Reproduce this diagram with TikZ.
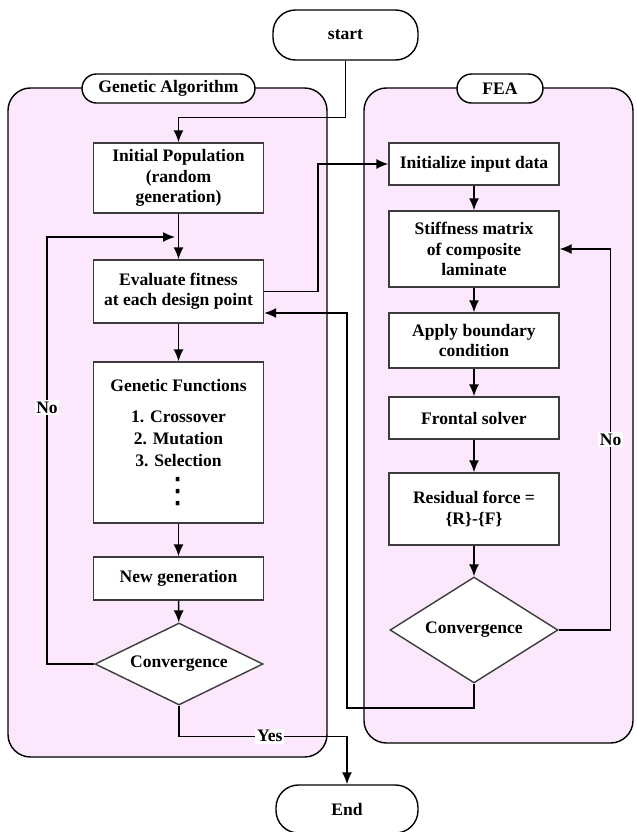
\documentclass[tikz,border=0pt]{standalone}
\usepackage{fontspec}
\setmainfont{Liberation Serif}
\newfontfamily\dotsfont{DejaVu Sans}
\usetikzlibrary{shapes.geometric}
\usetikzlibrary{arrows.meta}
\definecolor{gapink}{RGB}{252,232,252}
\definecolor{boxline}{RGB}{60,60,60}
\newcommand{\gadots}{{\dotsfont\mdseries\fontsize{20}{20}\selectfont ⋮}}

\begin{document}
\begin{tikzpicture}[x=0.02cm, y=-0.02cm, line width=0.8pt,
  every node/.style={font=\bfseries\fontsize{10}{11.5}\selectfont, align=center},
  proc/.style={draw=boxline, fill=white, minimum width=3.4cm, inner sep=2pt},
  pill/.style={draw=black, fill=white, inner sep=0pt},
  decide/.style={diamond, draw=boxline, fill=white, inner sep=0pt, minimum width=3.36cm},
  arr/.style={-{Latex[length=2.4mm,width=2mm]}},
  lbl/.style={fill=white, inner sep=1pt}]
	\useasboundingbox (0,0) rectangle (636,832);
	% panels
	\filldraw[fill=gapink, draw=black, rounded corners=0.45cm] (8,88) rectangle (327,757);
	\filldraw[fill=gapink, draw=black, rounded corners=0.45cm] (364,88) rectangle (633,743);
	\node[pill, rounded corners=0.29cm, minimum width=3.46cm, minimum height=0.58cm] (gatitle) at (168.5,88.5) {Genetic Algorithm};
	\node[pill, rounded corners=0.29cm, minimum width=1.72cm, minimum height=0.58cm] (featitle) at (500,88.5) {FEA};
	% terminals
	\node[pill, rounded corners=0.45cm, minimum width=2.9cm, minimum height=1cm] (start) at (345.5,35) {start};
	\node[pill, rounded corners=0.45cm, minimum width=2.84cm, minimum height=0.96cm] (end) at (347,809) {End};
	% genetic algorithm
	\node[proc, minimum height=1.4cm] (init) at (178.5,178) {Initial Population\\(random\\generation)};
	\node[proc, minimum height=1.26cm] (eval) at (178.5,291.5) {Evaluate fitness\\at each design point};
	\node[proc, minimum height=3.22cm] (genfun) at (178.5,442.5) {Genetic Functions\\[6.5pt]1. Crossover\\[1pt]2. Mutation\\[1pt]3. Selection\\[5pt]\gadots};
	\node[proc, minimum height=0.86cm] (newgen) at (178.5,578.5) {New generation};
	\node[decide, minimum height=1.64cm, aspect=2] (gaconv) at (179,664) {Convergence};
	% finite element analysis
	\node[proc, minimum height=0.84cm] (inputdata) at (474,164) {Initialize input data};
	\node[proc, minimum height=1.52cm] (stiff) at (474,249) {Stiffness matrix\\of composite\\laminate};
	\node[proc, minimum height=1.1cm] (bound) at (474,340.5) {Apply boundary\\condition};
	\node[proc, minimum height=0.84cm] (frontal) at (474,418) {Frontal solver};
	\node[proc, minimum height=1.44cm] (resid) at (474,509) {Residual force =\\\{R\}-\{F\}};
	\node[decide, minimum height=2.12cm, aspect=1.6] (feaconv) at (474,630) {Convergence};
	\coordinate (gajoin) at (178.5,237);
	\coordinate (ganoturn) at (47,237);
	\coordinate (feaback) at (347,708);
	% connectors
	\draw[arr] (start.south) |- ([yshift=0.5cm]init.north) -- (init.north);
	\draw[arr] (init) -- (eval);
	\draw[arr] (eval) -- (genfun);
	\draw[arr] (genfun) -- (newgen);
	\draw[arr] (newgen) -- (gaconv);
	\draw[arr] (gaconv.west) -| (ganoturn) node[lbl, pos=0.8] {No} -- ([xshift=-0.07cm]gajoin);
	\draw[arr] (gaconv.south) |- ([yshift=0.96cm]end.north) node[lbl, pos=0.77] {Yes} -- (end.north);
	\draw[arr] (eval.east) -- ++(54,0) |- (inputdata.west);
	\draw[arr] (inputdata) -- (stiff);
	\draw[arr] (stiff) -- (bound);
	\draw[arr] (bound) -- (frontal);
	\draw[arr] (frontal) -- (resid);
	\draw[arr] (resid) -- (feaconv);
	\draw[arr] (feaconv.east) -- ++(52,0) |- (stiff.east) node[lbl, pos=0.25] {No};
	\draw[arr] (feaconv.south) |- (feaback) |- ([yshift=-0.43cm]eval.east);
\end{tikzpicture}
\end{document}
